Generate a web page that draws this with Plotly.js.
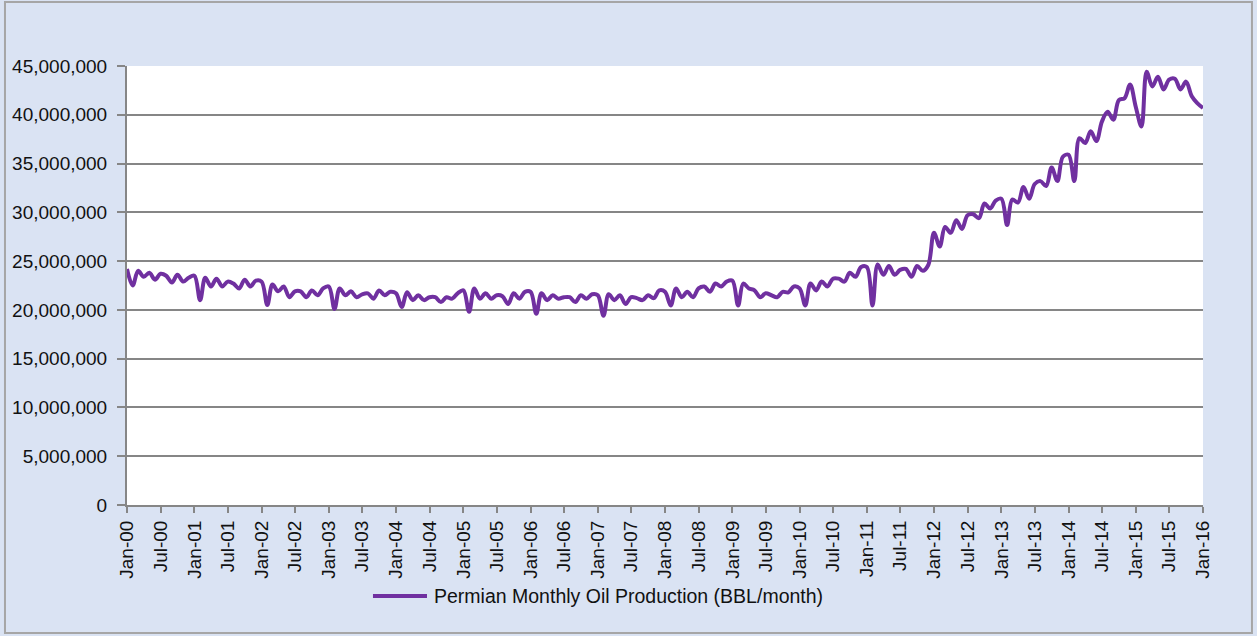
<!DOCTYPE html>
<html>
<head>
<meta charset="utf-8">
<script src="https://cdn.plot.ly/plotly-3.0.1.min.js"></script>
<style>html,body{margin:0;padding:0;background:#DAE3F3;}#chart{width:1257px;height:636px;}</style>
</head>
<body>
<div id="chart"></div>
<script>
// Permian monthly oil production, millions of barrels per month, Jan..Dec for each year
const startYear = 2000;
const y2000 = [24.2, 22.5, 24.0, 23.4, 23.8, 23.1, 23.7, 23.5, 22.8, 23.6, 22.9, 23.3];
const y2001 = [23.5, 21.0, 23.3, 22.4, 23.2, 22.4, 22.9, 22.7, 22.2, 23.1, 22.4, 23.0];
const y2002 = [22.9, 20.5, 22.6, 21.9, 22.4, 21.3, 21.9, 21.9, 21.3, 22.0, 21.5, 22.2];
const y2003 = [22.4, 20.1, 22.2, 21.5, 21.9, 21.3, 21.6, 21.7, 21.15, 22.0, 21.5, 21.85];
const y2004 = [21.7, 20.3, 21.8, 21.0, 21.5, 21.0, 21.3, 21.3, 20.8, 21.3, 21.15, 21.7];
const y2005 = [22.0, 19.8, 22.2, 21.15, 21.7, 21.15, 21.5, 21.4, 20.6, 21.7, 21.15, 21.85];
const y2006 = [21.85, 19.6, 21.7, 21.0, 21.5, 21.15, 21.3, 21.3, 20.8, 21.5, 21.15, 21.6];
const y2007 = [21.5, 19.4, 21.6, 21.0, 21.5, 20.6, 21.3, 21.2, 21.0, 21.5, 21.2, 22.0];
const y2008 = [21.85, 20.45, 22.2, 21.3, 21.85, 21.3, 22.2, 22.4, 21.85, 22.7, 22.4, 22.9];
const y2009 = [23.0, 20.45, 22.7, 22.2, 22.0, 21.3, 21.7, 21.5, 21.3, 21.85, 21.8, 22.4];
const y2010 = [22.2, 20.45, 22.7, 22.0, 22.9, 22.4, 23.2, 23.2, 22.9, 23.8, 23.4, 24.4];
const y2011 = [24.4, 20.45, 24.65, 23.6, 24.5, 23.6, 24.1, 24.2, 23.4, 24.5, 24.0, 24.6];
const y2012 = [27.9, 26.5, 28.5, 27.9, 29.2, 28.3, 29.7, 29.8, 29.4, 30.9, 30.4, 31.2];
const y2013 = [31.4, 28.7, 31.3, 31.0, 32.6, 31.4, 32.9, 33.2, 32.7, 34.6, 33.2, 35.7];
const y2014 = [35.9, 33.2, 37.6, 37.1, 38.3, 37.3, 39.3, 40.3, 39.5, 41.5, 41.7, 43.1];
const y2015 = [40.8, 38.8, 44.4, 42.9, 43.9, 42.6, 43.6, 43.7, 42.6, 43.4, 41.9, 41.2];
const y2016 = [40.7];

const yearly = [y2000, y2001, y2002, y2003, y2004, y2005, y2006, y2007, y2008, y2009,
                y2010, y2011, y2012, y2013, y2014, y2015, y2016];
const seriesName = 'Permian Monthly Oil Production (BBL/month)';
const yTickVals = [0, 5e6, 10e6, 15e6, 20e6, 25e6, 30e6, 35e6, 40e6, 45e6];

const dates = [], values = [];
yearly.forEach((arr, i) => {
  arr.forEach((v, m) => {
    dates.push((startYear + i) + '-' + String(m + 1).padStart(2, '0') + '-01');
    values.push(v * 1e6);
  });
});

const font = {family: 'Liberation Sans, Arial, sans-serif', size: 19, color: '#111111'};
const grey = '#868686';
const purple = '#7030A0';

const trace = {
  x: dates, y: values, type: 'scatter', mode: 'lines', name: seriesName,
  line: {color: purple, width: 4, shape: 'spline', smoothing: 1}
};

const layout = {
  width: 1257, height: 636,
  margin: {l: 127, r: 54, t: 66, b: 131},
  paper_bgcolor: '#DAE3F3', plot_bgcolor: '#FFFFFF',
  font: font,
  showlegend: false,
  xaxis: {
    type: 'date', range: ['2000-01-01', '2016-01-01'], dtick: 'M6', tick0: '2000-01-01',
    tickformat: '%b-%y', tickangle: -90, ticks: 'outside', ticklen: 6, tickwidth: 2,
    tickcolor: grey, showline: true, linecolor: grey, linewidth: 2, showgrid: false,
    zeroline: false, tickfont: font, fixedrange: true
  },
  yaxis: {
    range: [0, 45e6], tickvals: yTickVals, tickformat: ',d', ticks: 'outside', ticklen: 8,
    tickwidth: 2, tickcolor: grey, showline: true, linecolor: grey, linewidth: 2,
    showgrid: true, gridcolor: grey, gridwidth: 2, zeroline: false, tickfont: font,
    ticklabelstandoff: 6, fixedrange: true
  },
  shapes: [
    {type: 'rect', xref: 'paper', yref: 'paper',
     x0: -0.1134, x1: 1.0455, y0: -0.2916, y1: 1.1458,
     line: {color: '#A6A6A6', width: 2}, fillcolor: 'rgba(0,0,0,0)', layer: 'below'},
    {type: 'line', xref: 'paper', yref: 'paper',
     x0: 0.2286, x1: 0.2788, y0: -0.2073, y1: -0.2073,
     line: {color: purple, width: 4}}
  ],
  annotations: [{
    xref: 'paper', yref: 'paper', x: 0.2835, y: -0.2073, xanchor: 'left', yanchor: 'middle',
    text: seriesName, showarrow: false, font: Object.assign({}, font, {size: 19.5})
  }]
};

Plotly.newPlot('chart', [trace], layout, {displayModeBar: false, staticPlot: true});
</script>
</body>
</html>
